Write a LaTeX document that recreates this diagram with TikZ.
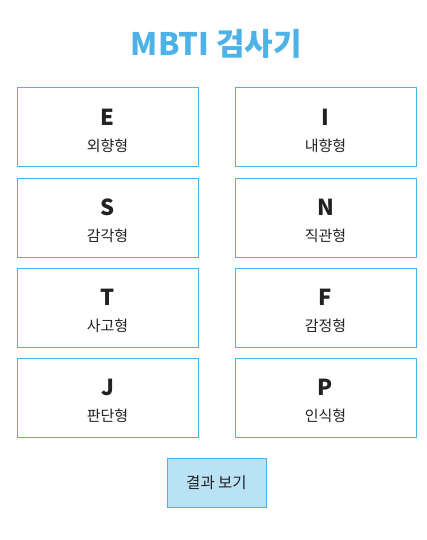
\documentclass[tikz,border=0pt]{standalone}
\usepackage{fontspec}
\setmainfont{Noto Sans CJK KR}
\definecolor{sky}{HTML}{4DB3E6}
\definecolor{btnfill}{HTML}{B9E2F5}
\definecolor{ink}{HTML}{222222}
\begin{document}
\begin{tikzpicture}[x=1pt,y=-1pt,
  card/.style={draw=sky,line width=1pt,minimum width=181pt,minimum height=79pt,inner sep=0pt},
  letter/.style={font=\fontsize{22}{24}\selectfont\bfseries,text=ink},
  desc/.style={font=\fontsize{15}{17}\selectfont,text=ink},
  btn/.style={draw=sky,fill=btnfill,line width=1pt,minimum width=99pt,minimum height=49pt,inner sep=0pt,font=\fontsize{15.5}{17}\selectfont,text=ink}]
\useasboundingbox (0,0) rectangle (427,540);
\node[font=\fontsize{31}{34}\selectfont\bfseries,text=sky] (title) at (216.5,44) {MBTI 검사기};
\foreach \r/\la/\da/\lb/\db [count=\i] in {0/E/외향형/I/내향형, 1/S/감각형/N/직관형, 2/T/사고형/F/감정형, 3/J/판단형/P/인식형}{
  \pgfmathsetmacro{\yc}{127.5+90*\r}
  \node[card] (L\i) at (107.5,\yc) {};
  \node[card] (R\i) at (325.5,\yc) {};
  \node[letter] (Ll\i) at ([yshift=10.5]L\i.center) {\la};
  \node[desc] (Ld\i) at ([yshift=-18.5]L\i.center) {\da};
  \node[letter] (Rl\i) at ([yshift=10.5]R\i.center) {\lb};
  \node[desc] (Rd\i) at ([yshift=-18.5]R\i.center) {\db};
}
\node[btn] (result) at (216.5,482.5) {결과 보기};
\end{tikzpicture}
\end{document}
